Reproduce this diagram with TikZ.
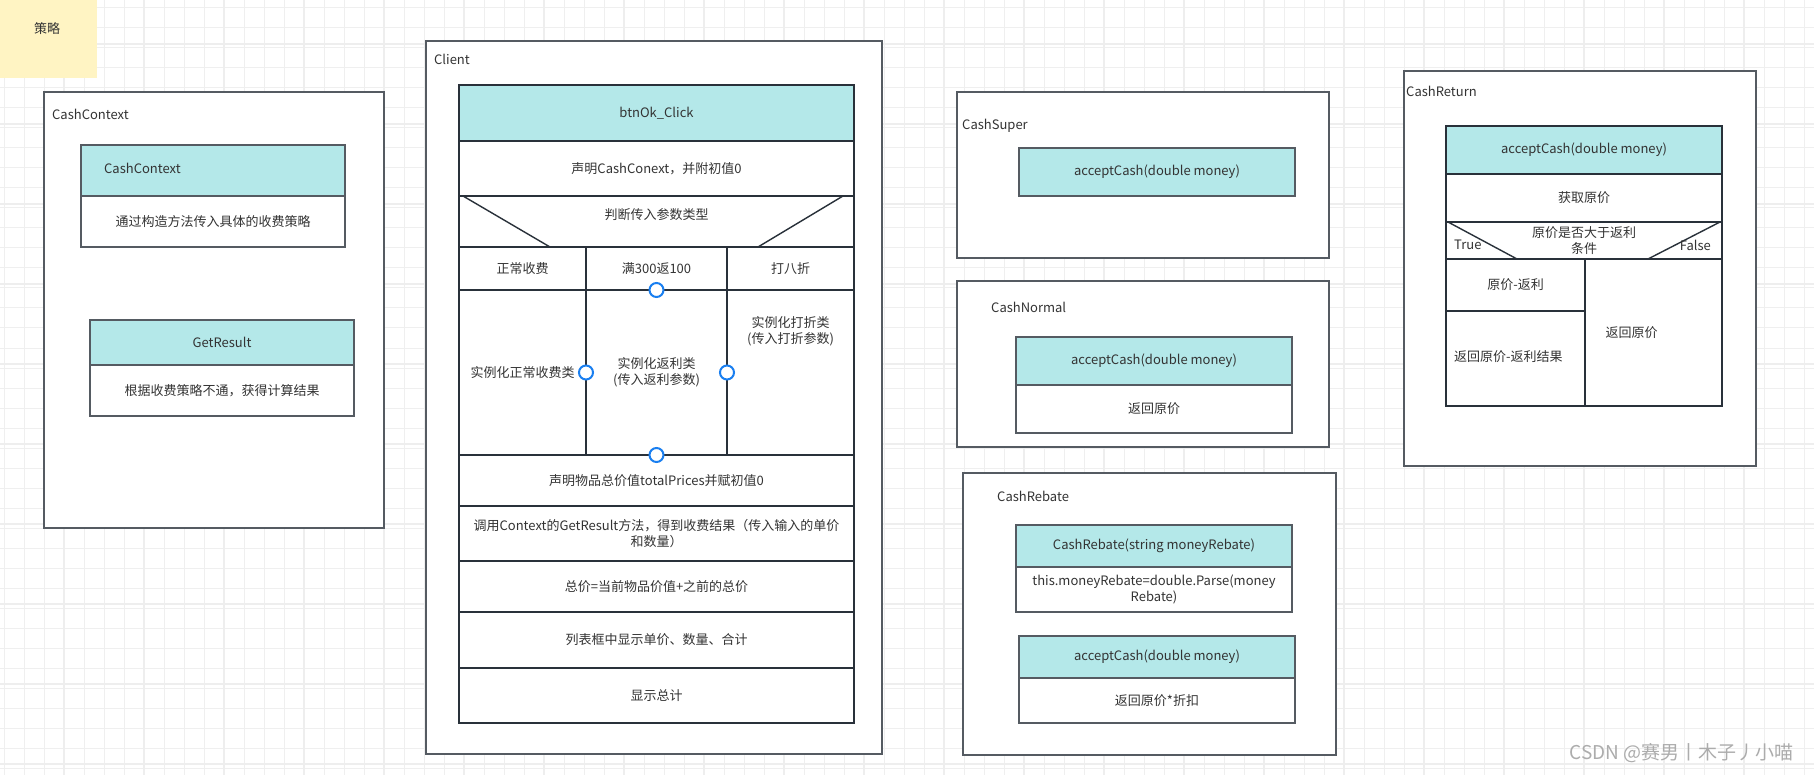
\documentclass[tikz,border=0pt]{standalone}
\usepackage{fontspec}
\setmainfont{Noto Sans CJK SC}
\usepackage{xcolor}
\usepackage{tikz}
\usetikzlibrary{positioning}

\definecolor{framec}{HTML}{555B62}
\definecolor{linec}{HTML}{29313A}
\definecolor{headc}{HTML}{B4E8E9}
\definecolor{textc}{HTML}{333333}
\definecolor{notec}{HTML}{FFF4C3}
\definecolor{portc}{HTML}{1A7FF0}
\definecolor{gridc}{HTML}{EFEFEF}

\tikzset{
  frame/.style={draw=framec, line width=1.4pt, fill=white, inner sep=0pt, outer sep=0pt, anchor=north west},
  head/.style={draw=linec, line width=1.4pt, fill=headc, inner sep=0pt, outer sep=0pt, align=center},
  cell/.style={draw=linec, line width=1.4pt, fill=white, inner sep=0pt, outer sep=0pt, align=center},
  title/.style={anchor=west, inner sep=0pt},
  diag/.style={draw=linec, line width=1.4pt},
  port/.style={circle, draw=portc, line width=2pt, fill=white, minimum size=14pt, inner sep=0pt},
}

\begin{document}
\begin{tikzpicture}[x=1pt, y=-1pt, font=\fontsize{13}{16}\selectfont, every node/.append style={text=textc}]
\useasboundingbox (0,0) rectangle (1814,775);
\fill[white] (0,0) rectangle (1814,775);

% Grid
\foreach \x in {4,24,...,1814} \draw[gridc, line width=1pt] (\x,0) -- (\x,775);
\foreach \y in {8,28,...,775} \draw[gridc, line width=1pt] (0,\y) -- (1814,\y);
\foreach \x in {64,144,...,1814} \draw[gray!13, line width=1.6pt] (\x,0) -- (\x,775);
\foreach \y in {44,124,...,775} \draw[gray!13, line width=1.6pt] (0,\y) -- (1814,\y);

% Note
\node[fill=notec, minimum width=97pt, minimum height=78pt, inner sep=0pt, anchor=north west] (note) at (0,0) {};
\node (notetxt) at (47,29) {策略};

% CashContext
\node[frame, minimum width=340pt, minimum height=436pt] (ctx) at (44,92) {};
\node[title] (ctxtitle) at (52,114) {CashContext};
\node[head, draw=framec, minimum width=264pt, minimum height=51pt, anchor=north west] (ctxhead) at (81,145) {};
\node[title] (ctxname) at ([xshift=23pt,yshift=2pt]ctxhead.west) {CashContext};
\node[cell, draw=framec, minimum width=264pt, minimum height=51pt, below=0pt of ctxhead] (ctxbody) {通过构造方法传入具体的收费策略};
\node[head, draw=framec, minimum width=264pt, minimum height=45pt, anchor=north west] (reshead) at (90,320) {GetResult};
\node[cell, draw=framec, minimum width=264pt, minimum height=51pt, below=0pt of reshead] (resbody) {根据收费策略不通，获得计算结果};

% Client
\node[frame, minimum width=456pt, minimum height=713pt] (client) at (426,41) {};
\node[title] (clienttitle) at (434,59) {Client};
\node[head, minimum width=395pt, minimum height=56pt, anchor=north west] (click) at (459,85) {btnOk\_Click};
\node[cell, minimum width=395pt, minimum height=55pt, below=0pt of click] (decl) {声明CashConext，并附初值0};
\node[cell, minimum width=395pt, minimum height=51pt, below=0pt of decl] (judge) {};
\node (judgetxt) at ([yshift=-19pt]judge.north) {判断传入参数类型};
\draw[diag] ([xshift=4pt]judge.north west) -- ([xshift=91pt]judge.south west);
\draw[diag] ([xshift=-11pt]judge.north east) -- ([xshift=-96pt]judge.south east);

\node[cell, minimum width=127pt, minimum height=43pt, below right=0pt and 0pt of judge.south west] (normh) {正常收费};
\node[cell, minimum width=141pt, minimum height=43pt, right=0pt of normh] (rebh) {满300返100};
\node[cell, minimum width=127pt, minimum height=43pt, right=0pt of rebh] (disch) {打八折};
\node[cell, minimum width=127pt, minimum height=165pt, below=0pt of normh] (normb) {实例化正常收费类};
\node[cell, minimum width=141pt, minimum height=165pt, below=0pt of rebh] (rebb) {实例化返利类\\(传入返利参数)};
\node[cell, minimum width=127pt, minimum height=165pt, below=0pt of disch] (discb) {};
\node[align=center] (discbtxt) at ([yshift=-41pt]discb.north) {实例化打折类\\(传入打折参数)};

\node[cell, minimum width=395pt, minimum height=51pt, below right=0pt and 0pt of normb.south west] (total) {声明物品总价值totalPrices并赋初值0};
\node[cell, minimum width=395pt, minimum height=55pt, below=0pt of total] (call) {调用Context的GetResult方法，得到收费结果（传入输入的单价\\和数量）};
\node[cell, minimum width=395pt, minimum height=51pt, below=0pt of call] (sum) {总价=当前物品价值+之前的总价};
\node[cell, minimum width=395pt, minimum height=56pt, below=0pt of sum] (list) {列表框中显示单价、数量、合计};
\node[cell, minimum width=395pt, minimum height=55pt, below=0pt of list] (show) {显示总计};

% Ports
\node[port] (p1) at (rebh.south) {};
\node[port] (p2) at (normb.east) {};
\node[port] (p3) at (rebb.east) {};
\node[port] (p4) at (rebb.south) {};

% CashSuper
\node[frame, minimum width=372pt, minimum height=166pt] (super) at (957,92) {};
\node[title] (supertitle) at (962,126) {CashSuper};
\node[head, draw=framec, minimum width=276pt, minimum height=48pt, anchor=north west] (superacc) at (1019,148) {acceptCash(double money)};

% CashNormal
\node[frame, minimum width=372pt, minimum height=166pt] (normal) at (957,281) {};
\node[title] (normaltitle) at (991,307) {CashNormal};
\node[head, draw=framec, minimum width=276pt, minimum height=48pt, anchor=north west] (normacc) at (1016,337) {acceptCash(double money)};
\node[cell, draw=framec, minimum width=276pt, minimum height=48pt, below=0pt of normacc] (normret) {返回原价};

% CashRebate
\node[frame, minimum width=373pt, minimum height=282pt] (rebate) at (963,473) {};
\node[title] (rebatetitle) at (997,496) {CashRebate};
\node[head, draw=framec, minimum width=276pt, minimum height=42pt, anchor=north west] (rebctor) at (1016,525) {CashRebate(string moneyRebate)};
\node[cell, draw=framec, minimum width=276pt, minimum height=45pt, below=0pt of rebctor] (rebset) {this.moneyRebate=double.Parse(money\\Rebate)};
\node[head, draw=framec, minimum width=276pt, minimum height=42pt, anchor=north west] (rebacc) at (1019,636) {acceptCash(double money)};
\node[cell, draw=framec, minimum width=276pt, minimum height=45pt, below=0pt of rebacc] (rebret) {返回原价*折扣};

% CashReturn
\node[frame, minimum width=352pt, minimum height=395pt] (return) at (1404,71) {};
\node[title] (returntitle) at (1406,91) {CashReturn};
\node[head, minimum width=276pt, minimum height=48pt, anchor=north west] (retacc) at (1446,126) {acceptCash(double money)};
\node[cell, minimum width=276pt, minimum height=48pt, below=0pt of retacc] (retget) {获取原价};
\node[cell, minimum width=276pt, minimum height=37pt, below=0pt of retget] (retif) {原价是否大于返利\\条件};
\draw[diag] ([xshift=2pt]retif.north west) -- ([xshift=71pt]retif.south west);
\draw[diag] ([xshift=-2pt]retif.north east) -- ([xshift=-74pt]retif.south east);
\node[title] (rettrue) at (1454,245) {True};
\node[title, anchor=east] (retfalse) at (1711,245) {False};
\node[cell, minimum width=139pt, minimum height=52pt, below right=0pt and 0pt of retif.south west] (retsub) {原价-返利};
\node[cell, minimum width=139pt, minimum height=95pt, below=0pt of retsub] (retres) {};
\node[title] (retrestxt) at ([xshift=8pt,yshift=2pt]retres.west) {返回原价-返利结果};
\node[cell, minimum width=137pt, minimum height=147pt, below left=0pt and 0pt of retif.south east] (retorig) {};
\node (retorigtxt) at ([xshift=-22pt]retorig.center) {返回原价};

% Watermark
\node[anchor=east, text=gray!65, font=\fontsize{19}{22}\selectfont] (mark) at (1797,753) {CSDN @赛男丨木子丿小喵};
\end{tikzpicture}
\end{document}
